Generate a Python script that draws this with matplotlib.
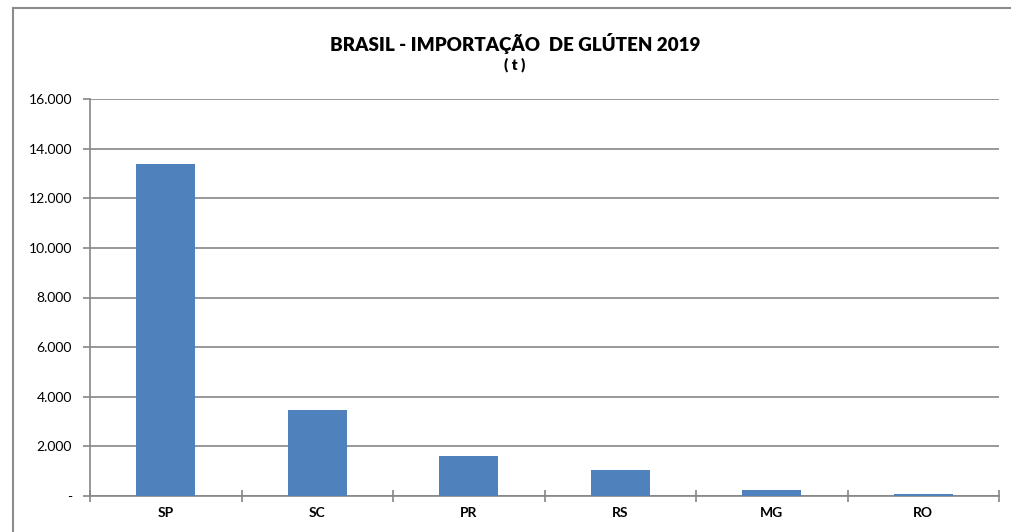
import matplotlib
matplotlib.use("Agg")
import matplotlib.pyplot as plt
from matplotlib.ticker import FuncFormatter, FixedLocator
from matplotlib.lines import Line2D

states = ["SP", "SC", "PR", "RS", "MG", "RO"]
values = [13370, 3470, 1600, 1060, 230, 80]
yticks = [0, 2000, 4000, 6000, 8000, 10000, 12000, 14000, 16000]
title = "BRASIL - IMPORTAÇÃO  DE GLÚTEN 2019"
subtitle = "( t )"

plt.rcParams['font.family'] = ['Lato', 'DejaVu Sans']

W, H = 1012, 532
fig = plt.figure(figsize=(W / 100, H / 100), dpi=100)
fig.patch.set_facecolor("white")

# outer chart border: only left and top edges are visible in the reference
border_c = "#8c8c8c"
fig.lines.append(Line2D([13 / W, 13 / W], [0, 1 - 8 / H], transform=fig.transFigure,
                        color=border_c, linewidth=1.5))
fig.lines.append(Line2D([13 / W, 1], [1 - 8 / H, 1 - 8 / H], transform=fig.transFigure,
                        color=border_c, linewidth=1.5))

ax = fig.add_axes([90 / W, 1 - 496 / H, (999 - 90) / W, (496 - 99) / H])
grid_c = "#868686"
x = list(range(len(states)))
ax.bar(x, values, width=0.39, color="#4F81BD", zorder=3)
ax.set_xlim(-0.5, len(states) - 0.5)
ax.set_ylim(0, 16000)
ax.yaxis.set_major_locator(FixedLocator(yticks))

def fmt(v, pos):
    if v == 0:
        return "-"
    return f"{v:,.0f}".replace(",", ".")

ax.yaxis.set_major_formatter(FuncFormatter(fmt))
ax.grid(axis="y", color=grid_c, linewidth=1.2, zorder=0)
ax.set_xticks(x)
ax.set_xticklabels(states, fontweight="bold", fontsize=10)
ax.tick_params(axis="x", length=0, pad=8)
ax.set_xticks([i - 0.5 for i in range(len(states) + 1)], minor=True)
ax.tick_params(axis="x", which="minor", length=8, direction="inout", color=grid_c, width=1.2)
ax.tick_params(axis="y", length=5, color=grid_c, width=1.2, labelsize=10, pad=8)

for s in ["top", "right"]:
    ax.spines[s].set_visible(False)
for s in ["left", "bottom"]:
    ax.spines[s].set_color(grid_c)
    ax.spines[s].set_linewidth(1.2)

fig.text(515 / W, 1 - 43 / H, title, ha="center", va="center", fontsize=13.5, fontweight="heavy")
fig.text(515 / W, 1 - 65 / H, subtitle, ha="center", va="center", fontsize=11, fontweight="heavy")

fig.savefig("out.png", dpi=100, facecolor="white")
